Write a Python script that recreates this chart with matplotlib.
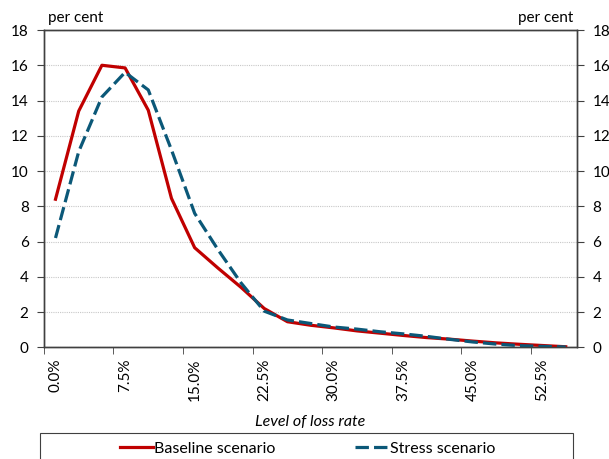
import matplotlib
matplotlib.use("Agg")
import matplotlib.pyplot as plt
from matplotlib.patches import Rectangle
import numpy as np

plt.rcParams['font.family'] = ['Lato', 'DejaVu Sans']

loss_rates = [0.0, 2.5, 5.0, 7.5, 10.0, 12.5, 15.0, 17.5, 20.0, 22.5, 25.0, 27.5,
              30.0, 32.5, 35.0, 37.5, 40.0, 42.5, 45.0, 47.5, 50.0, 52.5, 55.0]
baseline = [8.4, 13.4, 16.0, 15.85, 13.45, 8.45, 5.65, 4.5, 3.4, 2.2, 1.45, 1.25,
            1.1, 0.93, 0.8, 0.67, 0.55, 0.46, 0.35, 0.25, 0.17, 0.1, 0.03]
stress = [6.2, 11.1, 14.2, 15.6, 14.6, 11.2, 7.6, 5.55, 3.65, 2.05, 1.55, 1.35,
          1.15, 1.03, 0.88, 0.76, 0.62, 0.45, 0.3, 0.18, 0.09, 0.05, 0.02]
y_ticks = [0, 2, 4, 6, 8, 10, 12, 14, 16, 18]

fig = plt.figure(figsize=(6.09, 4.59), dpi=100)
ax = fig.add_axes([0.0721, 0.2434, 0.8759, 0.6912])

x = np.arange(len(loss_rates))
ax.plot(x, baseline, color='#C00000', lw=2.3, label='Baseline scenario', zorder=3)
ax.plot(x, stress, color='#0B5878', lw=2.3, ls=(0, (4.2, 1.6)), label='Stress scenario', zorder=4)

ax.set_xlim(-0.5, len(loss_rates) - 0.5)
ax.set_ylim(0, 18)
ax.set_yticks(y_ticks)
ax.yaxis.grid(True, color='#C8C8C8', ls=(0, (1, 1)), lw=0.8)
ax.set_axisbelow(True)

lab_idx = list(range(0, len(loss_rates), 3))
ax.set_xticks(lab_idx)
ax.set_xticklabels([f"{loss_rates[i]:.1f}%" for i in lab_idx], rotation=90, fontsize=11)
ax.set_xticks(np.arange(-0.5, len(loss_rates), 3), minor=True)
ax.tick_params(axis='x', which='major', length=0, pad=8)
ax.tick_params(axis='x', which='minor', length=5, direction='out', color='#404040')
ax.tick_params(axis='y', which='major', length=5, direction='out', labelsize=11, pad=6, color='#404040')

for s in ax.spines.values():
    s.set_color('#404040')
    s.set_linewidth(1.0)

ax2 = ax.twinx()
ax2.set_ylim(0, 18)
ax2.set_yticks(y_ticks)
ax2.tick_params(axis='y', length=5, direction='out', labelsize=11, pad=6, color='#404040')
for s in ax2.spines.values():
    s.set_color('#404040')
    s.set_linewidth(1.0)

fig.text(0.079, 0.945, 'per cent', fontsize=11, ha='left', va='bottom')
fig.text(0.942, 0.945, 'per cent', fontsize=11, ha='right', va='bottom')

ax.set_xlabel('Level of loss rate', fontsize=11.5, style='italic', labelpad=10)

# legend frame (extends below figure edge like the reference)
fig.patches.append(Rectangle((40 / 609, -0.05), (573 - 40) / 609, 0.05 + (459 - 433) / 459,
                             transform=fig.transFigure, fill=False,
                             edgecolor='#404040', linewidth=0.8))
leg = fig.legend(loc='center', bbox_to_anchor=(0.505, 0.022), ncol=2,
                 frameon=False, fontsize=11.5, handlelength=2.1,
                 columnspacing=5.0, handletextpad=0.05, borderaxespad=0)

fig.savefig('out.png', dpi=100)
